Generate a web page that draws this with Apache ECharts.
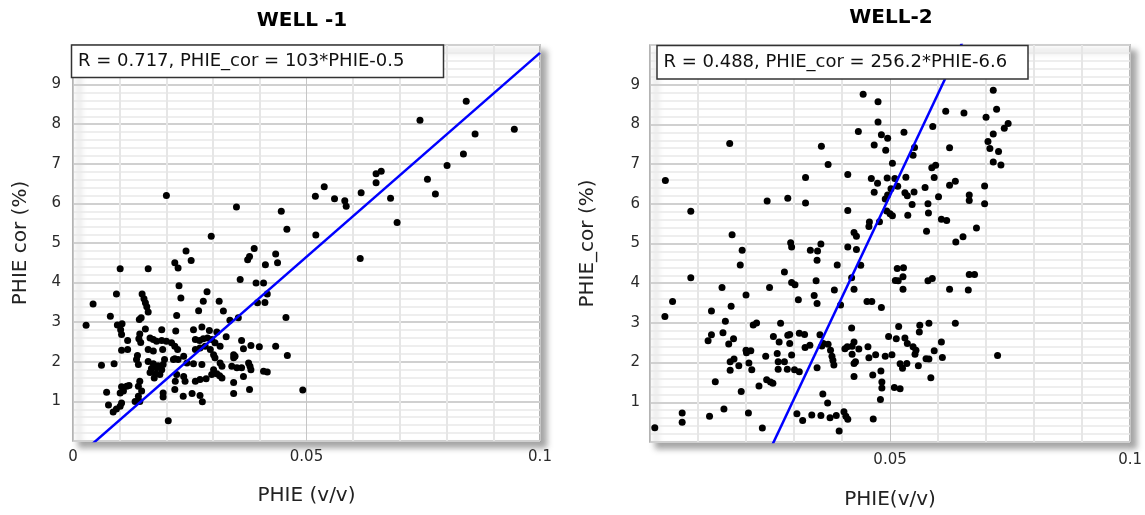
<!DOCTYPE html>
<html><head><meta charset="utf-8">
<script src="https://cdn.jsdelivr.net/npm/echarts@6/dist/echarts.min.js"></script>
<style>html,body{margin:0;padding:0;background:#fff}#c{width:1145px;height:515px}</style>
</head><body><div id="c"></div>
<script>
// ---------- data ----------
const well1Phie = [
0.0200,0.0350,0.0446,0.0458,0.0296,0.0242,0.0388,0.0378,0.0434,0.0253,0.0519,0.0538,0.0560,0.0582,0.0585,0.0520,0.0617,0.0649,0.0649,0.0660,0.0680,0.0694,0.0743,0.0759,0.0776,0.0801,0.0836,0.0842,0.0861,0.0945,0.0615,
0.0374,0.0438,0.0412,
0.0101,0.0161,0.0218,0.0225,0.0227,0.0231,0.0222,0.0093,0.0043,0.0028,0.0080,
0.0148,0.0152,0.0155,0.0158,0.0161,0.0146,0.0142,
0.0095,0.0105,0.0102,0.0104,0.0155,0.0190,0.0220,0.0143,0.0141,0.0145,
0.0165,0.0172,0.0179,0.0190,0.0200,0.0211,0.0218,0.0224,
0.0117,0.0104,0.0117,0.0061,0.0088,0.0138,0.0136,0.0140,0.0161,0.0172,
0.0161,0.0172,0.0182,0.0193,0.0168,0.0179,0.0190,0.0165,0.0177,0.0186,0.0174,
0.0218,0.0225,0.0222,
0.0143,0.0140,0.0147,0.0140,0.0133,0.0143,
0.0104,0.0115,0.0120,0.0108,0.0101,
0.0072,0.0076,0.0086,0.0093,0.0101,0.0104,
0.0193,0.0193,0.0218,0.0236,0.0204,
0.0358,0.0392,0.0408,0.0416,0.0395,0.0411,0.0456,0.0336,0.0354,0.0287,0.0279,0.0313,0.0322,0.0269,
0.0258,0.0276,0.0292,0.0308,
0.0262,0.0271,0.0279,0.0288,0.0297,0.0304,0.0315,0.0328,
0.0262,0.0272,0.0283,0.0294,0.0301,0.0304,
0.0237,0.0244,0.0258,0.0276,0.0315,0.0319,
0.0301,0.0297,0.0308,0.0314,0.0319,0.0237,0.0240,0.0262,0.0272,0.0285,
0.0255,0.0272,0.0277,
0.0361,0.0365,0.0381,0.0399,0.0434,0.0459,
0.0344,0.0347,0.0344,0.0340,0.0351,0.0361,0.0376,0.0379,0.0381,
0.0365,0.0344,0.0344,0.0378,0.0408,0.0416,0.0492,
0.0192,0.0196,0.0215,0.0219
];
const well1Cor = [
6.20,5.91,5.80,5.35,5.17,4.80,4.86,4.66,4.72,4.56,6.18,6.42,6.12,6.07,5.93,5.20,6.27,6.52,6.75,6.81,6.13,5.52,8.10,6.61,6.24,6.96,7.25,8.58,7.75,7.87,4.61,
4.58,4.50,4.45,
4.35,4.35,4.50,4.37,3.92,3.61,3.17,3.71,3.46,2.92,3.15,
3.71,3.59,3.49,3.39,3.26,3.11,3.07,
2.93,2.96,2.81,2.69,2.83,2.81,2.78,2.70,2.58,2.49,
2.60,2.56,2.52,2.54,2.52,2.48,2.39,2.31,
2.54,2.29,2.31,1.91,1.95,2.16,2.06,1.93,2.31,2.27,
2.01,1.95,1.90,1.93,1.83,1.85,1.80,1.73,1.70,1.68,1.59,
2.08,2.06,1.68,
1.51,1.38,1.26,1.13,1.00,1.00,
1.37,1.38,1.40,1.26,1.21,
1.23,0.91,0.73,0.81,0.88,0.96,
1.21,1.11,1.30,1.13,0.51,
4.08,3.99,3.99,3.71,3.49,3.50,3.12,3.05,3.11,3.77,3.53,3.53,3.28,3.29,
2.81,2.88,2.79,2.75,
2.56,2.54,2.58,2.60,2.56,2.48,2.39,2.63,
2.31,2.35,2.39,2.31,2.18,2.10,
2.14,1.97,1.95,1.93,1.97,1.89,
1.80,1.68,1.70,1.65,1.59,1.63,1.51,1.51,1.55,1.57,
1.20,1.15,0.99,
2.54,2.33,2.41,2.38,2.39,2.16,
2.18,2.14,2.10,1.89,1.85,1.85,1.97,1.89,1.80,
1.63,1.48,1.20,1.30,1.76,1.74,1.29,
2.31,2.06,2.06,1.51
];
const well2Phie = [
0.0166,0.0032,0.0085,0.0171,0.0192,0.0244,0.0287,0.0324,0.0324,0.0357,0.0371,0.0293,0.0295,0.0334,0.0349,0.0356,
0.0444,0.0475,0.0475,0.0434,0.0482,0.0495,0.0467,0.0491,0.0529,0.0551,0.0548,0.0505,0.0589,0.0616,0.0654,0.0624,
0.0412,0.0461,0.0474,0.0494,0.0510,0.0533,0.0516,0.0467,0.0502,0.0531,0.0536,0.0550,0.0495,0.0490,0.0546,0.0573,0.0587,0.0595,0.0592,0.0579,0.0580,0.0601,0.0624,0.0636,0.0665,0.0665,0.0697,0.0697,
0.0412,0.0493,0.0500,0.0505,0.0478,0.0457,0.0456,0.0537,0.0607,0.0618,0.0576,0.0680,0.0652,0.0637,0.0425,0.0430,0.0412,0.0430,
0.0715,0.0722,0.0700,0.0746,0.0738,0.0715,0.0704,0.0708,0.0726,0.0715,0.0731,
0.0188,0.0085,0.0150,0.0200,0.0047,0.0031,0.0128,0.0169,0.0157,0.0215,0.0222,0.0128,0.0121,0.0152,0.0174,0.0164,0.0200,0.0201,0.0210,0.0167,0.0175,0.0185,0.0167,0.0206,0.0212,0.0136,0.0190,0.0227,0.0243,0.0251,0.0256,0.0241,0.0257,0.0265,0.0269,0.0272,0.0287,0.0267,0.0280,0.0267,0.0286,0.0249,0.0280,0.0067,0.0067,0.0124,0.0154,0.0205,0.0010,0.0234,
0.0348,0.0390,0.0439,0.0420,0.0346,0.0295,0.0302,0.0384,0.0425,0.0342,0.0348,0.0309,0.0397,0.0452,0.0462,0.0482,0.0420,0.0515,0.0528,0.0527,0.0511,0.0517,0.0527,0.0579,0.0588,0.0624,0.0518,0.0562,0.0561,0.0581,0.0497,0.0513,0.0531,0.0536,0.0548,0.0554,0.0552,0.0607,0.0592,0.0609,0.0575,0.0581,0.0559,0.0521,0.0526,0.0535,0.0585,0.0490,0.0504,0.0509,0.0521,0.0454,0.0456,0.0470,0.0481,0.0464,0.0483,0.0483,0.0480,0.0465,0.0425,0.0421,0.0435,0.0411,0.0406,0.0421,0.0428,0.0425,0.0425,0.0404,0.0412,0.0408,0.0394,0.0388,0.0375,0.0356,0.0337,0.0318,0.0306,0.0360,0.0370,0.0358,0.0361,0.0371,0.0376,0.0379,0.0381,0.0383,0.0354,0.0333,0.0323,0.0311,0.0322,0.0291,0.0291,0.0295,0.0301,0.0311,0.0348,
0.0665,0.0676,0.0663,0.0636,0.0724
];
const well2Cor = [
7.52,6.59,5.81,5.22,4.83,6.07,6.14,6.02,6.66,7.45,6.99,5.02,4.91,4.83,4.81,4.99,
8.76,8.57,8.06,7.82,7.74,7.65,7.48,7.35,7.80,7.42,7.22,7.02,7.95,8.33,8.29,7.41,
6.74,6.64,6.52,6.65,6.64,6.67,6.44,6.29,6.38,6.28,6.20,6.30,6.22,6.12,5.98,6.41,6.91,6.97,6.66,6.00,5.77,6.18,6.47,6.57,6.22,6.08,6.45,6.00,
5.83,5.82,5.75,5.70,5.55,5.54,5.43,5.71,5.61,5.58,5.31,5.39,5.17,5.04,5.28,5.18,4.91,4.85,
8.86,8.38,8.18,8.02,7.90,7.76,7.57,7.39,7.32,7.05,6.98,
4.46,4.14,3.89,3.70,3.54,3.16,3.30,3.42,3.04,2.95,3.00,2.70,2.55,2.75,2.60,2.47,2.31,2.25,2.30,2.02,2.09,1.92,1.81,1.99,1.82,1.52,1.27,1.41,1.57,1.51,1.48,2.16,2.66,2.23,2.52,2.99,2.69,2.02,2.02,1.83,1.83,3.89,4.28,0.73,0.50,0.65,0.83,0.73,0.36,0.35,
4.58,4.46,4.45,4.14,4.06,4.02,3.96,3.83,3.85,3.69,3.49,3.58,3.45,3.54,3.54,3.39,2.87,4.37,4.39,4.16,4.07,4.06,3.85,4.06,4.12,3.85,2.91,2.94,2.77,2.99,2.66,2.60,2.62,2.48,2.40,2.31,2.21,2.52,2.30,2.13,2.10,2.09,1.92,1.97,1.86,1.98,1.62,2.16,2.20,1.37,1.34,2.40,2.12,2.20,1.79,1.69,1.51,1.36,1.07,0.58,2.52,2.41,2.34,2.40,2.35,2.21,2.02,1.98,1.65,0.76,0.57,0.65,0.28,0.67,0.61,0.67,0.68,0.54,0.71,1.21,0.98,2.42,2.48,2.46,2.31,2.16,2.06,1.94,2.70,2.44,2.38,2.74,2.71,2.71,2.48,2.19,1.82,1.77,1.87,
4.22,4.22,3.83,2.99,2.18
];
const panelTitles = ['WELL -1', 'WELL-2'];
const fitLabels = ['R = 0.717, PHIE_cor = 103*PHIE-0.5', 'R = 0.488, PHIE_cor = 256.2*PHIE-6.6'];
const fitSlope = [103, 256.2];
const fitIntercept = [-0.5, -6.6];
const xNames = ['PHIE (v/v)', 'PHIE(v/v)'];
const yNames = ['PHIE cor (%)', 'PHIE_cor (%)'];

// ---------- layout ----------
const FONT = '"DejaVu Sans", Verdana, sans-serif';
const grids = [
  {left: 73, top: 45, width: 467, height: 396},
  {left: 650, top: 45, width: 485, height: 401}
];
const xNameGap = [45, 48];
const yNameGap = [42, 52];
const xLabelMargin = [9, 11];
const yLabelMargin = [12, 10];
const titlePos = [[302, 21], [891, 18]];
const boxRect = [[71.5, 45, 372, 32.5], [657, 45.5, 371, 33.5]];
const boxText = [[78, 61.5], [663.5, 62.5]];

function zip(a, b) { return a.map((v, i) => [v, b[i]]); }

const option = {
  animation: false,
  backgroundColor: '#fff',
  grid: grids.map(g => Object.assign({
    show: true, backgroundColor: '#fff', borderColor: '#9a9a9a', borderWidth: 1.5,
    shadowColor: 'rgba(0,0,0,0.35)', shadowBlur: 6, shadowOffsetX: 6, shadowOffsetY: 6,
    containLabel: false
  }, g)),
  xAxis: [0, 1].map(i => ({
    gridIndex: i, type: 'value', min: 0, max: 0.1, interval: 0.05,
    axisLine: {show: false}, axisTick: {show: false},
    axisLabel: {fontSize: 15, color: '#2a2a2a', fontFamily: FONT, margin: xLabelMargin[i], showMinLabel: i === 0, showMaxLabel: true},
    splitLine: {show: true, lineStyle: {color: '#c6c6c6', width: 1}},
    minorTick: {show: false, splitNumber: 5},
    minorSplitLine: {show: true, lineStyle: {color: '#e6e6e6', width: 2}},
    name: xNames[i], nameLocation: 'middle', nameGap: xNameGap[i],
    nameTextStyle: {fontSize: 20, color: '#222', fontFamily: FONT}
  })),
  yAxis: [0, 1].map(i => ({
    gridIndex: i, type: 'value', min: 0, max: 10, interval: 1,
    axisLine: {show: false}, axisTick: {show: false},
    axisLabel: {fontSize: 15, color: '#2a2a2a', fontFamily: FONT, margin: yLabelMargin[i], showMinLabel: false, showMaxLabel: false},
    splitLine: {show: true, lineStyle: {color: '#d0d0d0', width: 2}},
    minorTick: {show: false, splitNumber: 5},
    minorSplitLine: {show: true, lineStyle: {color: '#e9e9e9', width: 1.5}},
    name: yNames[i], nameLocation: 'middle', nameGap: yNameGap[i],
    nameTextStyle: {fontSize: 20, color: '#222', fontFamily: FONT}
  })),
  series: [
    {type: 'scatter', xAxisIndex: 0, yAxisIndex: 0, data: zip(well1Phie, well1Cor), symbolSize: 7, itemStyle: {color: '#000', opacity: 1}, z: 2},
    {type: 'scatter', xAxisIndex: 1, yAxisIndex: 1, data: zip(well2Phie, well2Cor), symbolSize: 7, itemStyle: {color: '#000', opacity: 1}, z: 2},
  ].concat([0, 1].map(i => ({
    type: 'line', xAxisIndex: i, yAxisIndex: i, clip: true, symbol: 'none', z: 3,
    lineStyle: {color: '#0000ff', width: 2.5},
    data: [[0, fitIntercept[i]], [0.1, fitSlope[i] * 0.1 + fitIntercept[i]]]
  }))),
  graphic: [0, 1].map(i => ({
    type: 'group', z: 100, children: [
      {type: 'text', x: titlePos[i][0], y: titlePos[i][1], z: 100,
        style: {text: panelTitles[i], font: 'bold 20px ' + FONT, fill: '#000', textAlign: 'center', textVerticalAlign: 'middle', align: 'center', verticalAlign: 'middle'}},
      {type: 'rect', z: 100, shape: {x: boxRect[i][0], y: boxRect[i][1], width: boxRect[i][2], height: boxRect[i][3]},
        style: {fill: '#fff', stroke: '#333', lineWidth: 1.5}},
      {type: 'text', z: 101, x: boxText[i][0], y: boxText[i][1],
        style: {text: fitLabels[i], font: '18px ' + FONT, fill: '#111', textAlign: 'left', textVerticalAlign: 'middle', align: 'left', verticalAlign: 'middle'}}
    ]
  }))
};
const chart = echarts.init(document.getElementById('c'), null, {renderer: 'canvas'});
chart.setOption(option);
</script>
</body></html>
